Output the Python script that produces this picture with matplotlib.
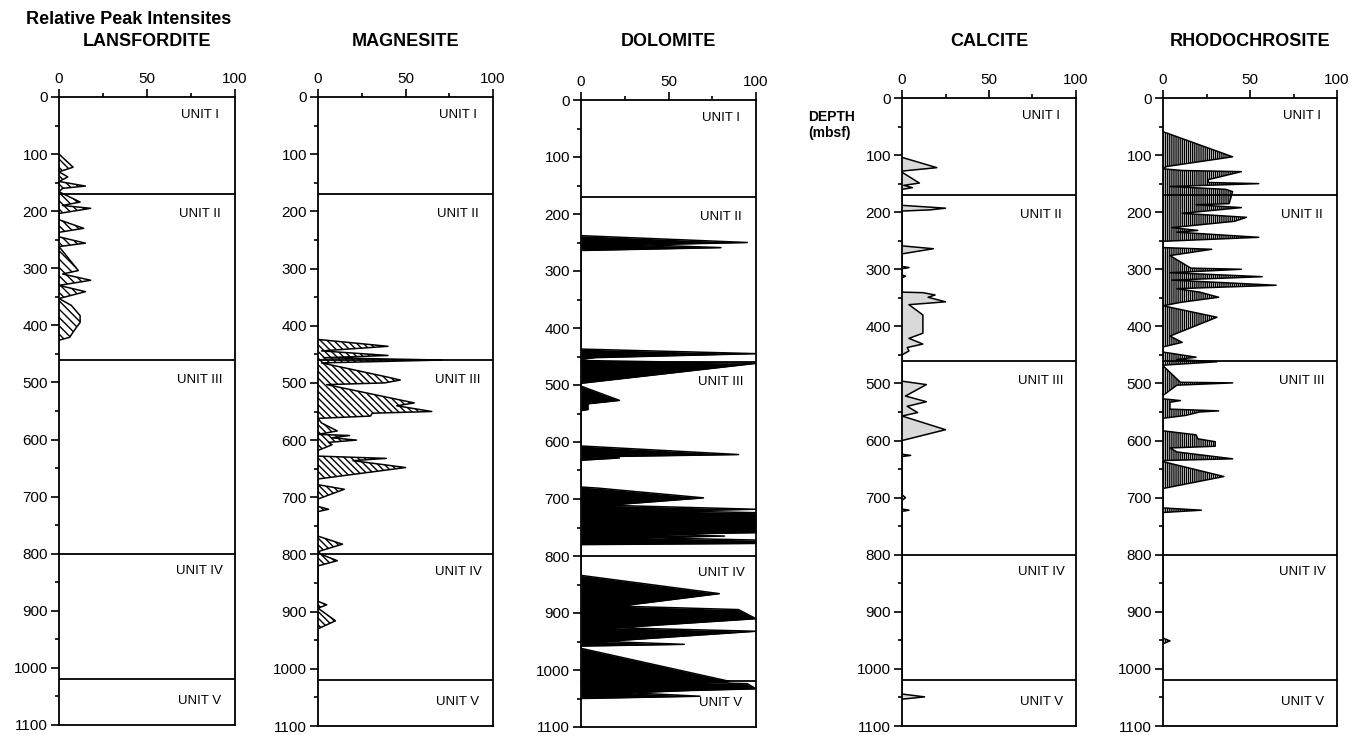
import matplotlib
matplotlib.use("Agg")
import matplotlib.pyplot as plt
from matplotlib.ticker import MultipleLocator

plt.rcParams['font.family'] = ['Liberation Sans', 'DejaVu Sans']
plt.rcParams['hatch.linewidth'] = 1.0

# depth (mbsf) / relative peak intensity pairs
lans_depth = [100, 123, 131, 140, 148, 156, 160, 166, 184, 190, 195, 204, 215, 230, 237, 245,
              256, 262, 304, 310, 321, 330, 341, 353, 365, 383, 395, 403, 421, 426]
lans_val = [0, 8, 0, 5, 0, 15, 2, 0, 12, 2, 18, 0, 0, 14, 0, 0,
            15, 0, 11, 2, 18, 0, 15, 0, 7, 12, 12, 10, 6, 0]

magn_depth = [424, 436, 444, 452, 456, 460, 465, 490, 495, 500, 503, 535, 540, 550, 553, 558,
              562, 570, 584, 590, 592, 596, 600, 604, 608, 612, 618, 628, 632, 636, 648, 668,
              678, 686, 703, 716, 721, 725, 768, 782, 795, 800, 811, 820, 882, 888, 894, 916, 930]
magn_val = [0, 40, 2, 40, 3, 71, 2, 40, 47, 38, 5, 55, 45, 65, 31, 30,
            0, 2, 11, 0, 18, 8, 22, 6, 8, 5, 0, 0, 39, 20, 50, 0,
            0, 15, 0, 0, 6, 0, 0, 14, 0, 2, 11, 0, 0, 5, 0, 10, 0]

dolo_depth = [238, 250, 254, 259, 264, 437, 445, 452, 455, 457, 462, 497, 502, 527, 533, 543,
              545, 607, 622, 626, 628, 632, 679, 681, 698, 711, 718, 721, 724, 759, 762, 765,
              768, 772, 778, 780, 834, 866, 888, 894, 910, 926, 932, 950, 955, 958, 962, 1020,
              1022, 1024, 1033, 1036, 1040, 1046, 1050]
dolo_val = [0, 95, 35, 80, 0, 0, 100, 8, 0, 0, 100, 0, 0, 22, 4, 4,
            0, 0, 90, 5, 22, 0, 0, 10, 70, 15, 100, 51, 100, 100, 46, 82,
            38, 100, 100, 0, 0, 79, 22, 90, 100, 20, 100, 13, 59, 0, 0, 85,
            72, 95, 100, 62, 28, 68, 0]

calc_depth = [104, 122, 128, 130, 149, 153, 157, 160, 188, 193, 196, 198, 259, 264, 273, 295,
              297, 299, 310, 312, 315, 340, 341, 345, 349, 357, 362, 380, 412, 421, 431, 437,
              443, 450, 496, 502, 522, 532, 540, 551, 557, 581, 600, 624, 626, 628, 695, 700,
              705, 720, 722, 724, 1044, 1049, 1053]
calc_val = [0, 20, 0, 0, 10, 1, 6, 0, 0, 25, 16, 0, 0, 18, 0, 0,
            4, 0, 0, 2, 0, 0, 12, 19, 15, 25, 4, 12, 12, 4, 12, 3,
            4, 0, 0, 14, 2, 14, 3, 9, 0, 25, 0, 0, 5, 0, 0, 2,
            0, 0, 4, 0, 0, 13, 0]

rhod_depth = [59, 103, 120, 124, 127, 129, 143, 148, 150, 155, 160, 164, 185, 187, 192, 202,
              209, 216, 227, 232, 235, 244, 251, 262, 265, 276, 298, 300, 306, 313, 319, 328,
              334, 340, 349, 358, 364, 384, 417, 428, 436, 445, 454, 458, 462, 468, 469, 498,
              499, 503, 521, 527, 530, 533, 545, 548, 550, 556, 561, 583, 590, 597, 602, 610,
              613, 620, 632, 635, 637, 663, 684, 718, 722, 726, 946, 951, 956]
rhod_val = [0, 40, 2, 0, 11, 45, 26, 26, 55, 4, 36, 40, 38, 19, 45, 11,
            48, 41, 5, 20, 8, 55, 0, 0, 28, 4, 16, 45, 4, 57, 5, 65,
            8, 21, 32, 10, 0, 31, 4, 11, 0, 0, 19, 8, 31, 0, 0, 10,
            40, 8, 0, 0, 10, 4, 4, 32, 21, 13, 0, 0, 19, 20, 30, 30,
            4, 8, 40, 0, 0, 35, 0, 0, 22, 0, 0, 4, 0]

unit_bounds = [170, 460, 800, 1020]
unit_names = ['UNIT I', 'UNIT II', 'UNIT III', 'UNIT IV', 'UNIT V']
unit_label_depth = [32, 205, 495, 830, 1058]

W, H = 1353, 735
fig = plt.figure(figsize=(W / 100, H / 100), dpi=100)

panels = [
    # title, depth, values, face, hatch, box (left, right, top, bottom) in px
    ('LANSFORDITE', lans_depth, lans_val, 'white', '\\\\\\\\', (59, 235, 97, 725)),
    ('MAGNESITE', magn_depth, magn_val, 'white', '\\\\\\\\\\', (318, 493, 97, 726)),
    ('DOLOMITE', dolo_depth, dolo_val, 'black', None, (581, 756, 100, 727)),
    ('CALCITE', calc_depth, calc_val, '#d9d9d9', None, (902, 1076, 98, 726)),
    ('RHODOCHROSITE', rhod_depth, rhod_val, 'white', '||||||||', (1163, 1337, 98, 726)),
]

for title, depth, vals, face, hatch, (l, r, t, b) in panels:
    ax = fig.add_axes([l / W, 1 - b / H, (r - l) / W, (b - t) / H])
    ax.fill_betweenx(depth, 0, vals, facecolor=face, edgecolor='black',
                     hatch=hatch, linewidth=0)
    ax.plot(vals, depth, color='black', lw=1.1)
    ax.set_xlim(0, 100)
    ax.set_ylim(1100, 0)

    ax.xaxis.tick_top()
    ax.set_xticks([0, 50, 100])
    ax.xaxis.set_minor_locator(MultipleLocator(25))
    ax.yaxis.set_major_locator(MultipleLocator(100))
    ax.yaxis.set_minor_locator(MultipleLocator(50))
    ax.tick_params(which='major', direction='out', length=6, width=1.2,
                   labelsize=11, pad=2)
    ax.tick_params(which='minor', direction='out', length=3, width=1.2)
    for s in ax.spines.values():
        s.set_linewidth(1.3)

    for yb in unit_bounds:
        ax.axhline(yb, color='black', lw=1.3)
    for name, yd in zip(unit_names, unit_label_depth):
        ax.text(0.8, yd, name, transform=ax.get_yaxis_transform(),
                ha='center', va='center', fontsize=9.5)

    fig.text((l + r) / 2 / W, 1 - 42 / H, title, ha='center', va='center',
             fontsize=13, fontweight='bold')

fig.text(26 / W, 1 - 20 / H, 'Relative Peak Intensites', ha='left', va='center',
         fontsize=13, fontweight='bold')
fig.text(808 / W, 1 - 117 / H, 'DEPTH', ha='left', va='center',
         fontsize=10, fontweight='bold')
fig.text(808 / W, 1 - 133 / H, '(mbsf)', ha='left', va='center',
         fontsize=10, fontweight='bold')

fig.savefig('out.png', dpi=100, facecolor='white')
